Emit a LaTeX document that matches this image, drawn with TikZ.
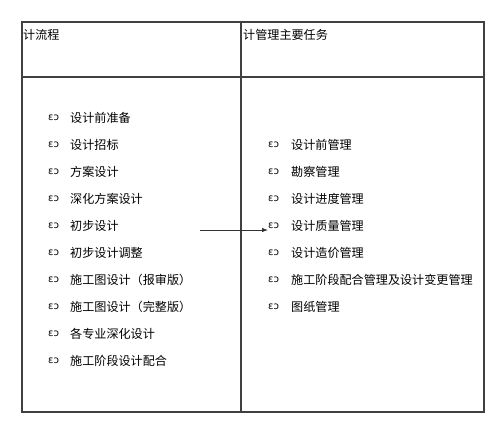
\documentclass[tikz,border=0pt]{standalone}
\usepackage{fontspec}
\newfontfamily\cjk{Noto Sans CJK SC}
\newfontfamily\bulfont{DejaVu Sans}
\usetikzlibrary{arrows.meta}
\begin{document}
\begin{tikzpicture}[x=1pt,y=-1pt,
  frame/.style={draw=black!75,line width=1.2pt},
  item/.style={anchor=west,inner sep=0pt,font=\cjk\fontsize{12.1}{13}\selectfont},
  bul/.style={anchor=west,inner sep=0pt,font=\bulfont\fontsize{10}{10}\selectfont},
  conn/.style={draw=black!80,line width=0.8pt,-{Latex[length=6pt,width=4.5pt]}}]
\useasboundingbox (0,0) rectangle (500,428);
\fill[white] (0,0) rectangle (500,428);
% table
\draw[frame] (22,22) rectangle (484,412);
\draw[frame] (22,77) -- (484,77);
\draw[frame] (241,22) -- (241,412);
% headers
\node[item] (h1) at (23,35) {计流程};
\node[item] (h2) at (243,35) {计管理主要任务};
% left items
\foreach \t [count=\i] in {设计前准备,设计招标,方案设计,深化方案设计,初步设计,初步设计调整,施工图设计（报审版）,施工图设计（完整版）,各专业深化设计,施工阶段设计配合}{
  \node[bul] (lb\i) at (48,{118+27*(\i-1)}) {ɛɔ};
  \node[item] (l\i) at (70,{118+27*(\i-1)}) {\t};
}
% right items
\foreach \t [count=\i] in {设计前管理,勘察管理,设计进度管理,设计质量管理,设计造价管理,施工阶段配合管理及设计变更管理,图纸管理}{
  \node[bul] (rb\i) at (268,{145+27*(\i-1)}) {ɛɔ};
  \node[item] (r\i) at (291,{145+27*(\i-1)}) {\t};
}
\coordinate (as) at (200,230);
\draw[conn] (as) -- (rb4.west |- as);
\end{tikzpicture}
\end{document}
